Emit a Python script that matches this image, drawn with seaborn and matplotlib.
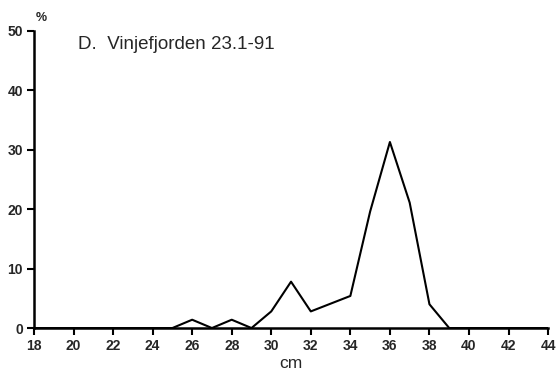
import matplotlib
matplotlib.use("Agg")
import matplotlib.pyplot as plt
import seaborn as sns
import pandas as pd

# Length distribution (cm) and percentage of catch
lengths = [18, 19, 20, 21, 22, 23, 24, 25, 26, 27, 28, 29, 30, 31, 32, 33,
           34, 35, 36, 37, 38, 39, 40, 41, 42, 43, 44]
percent = [0, 0, 0, 0, 0, 0, 0, 0, 1.4, 0, 1.4, 0, 2.8, 7.8, 2.8, 4.1,
           5.4, 19.6, 31.3, 21.1, 4.0, 0, 0, 0, 0, 0, 0]
x_ticks = list(range(18, 45, 2))
y_ticks = [0, 10, 20, 30, 40, 50]
title = "D.  Vinjefjorden 23.1-91"

df = pd.DataFrame({"cm": lengths, "pct": percent})

sns.set_style("ticks")
plt.rcParams["font.family"] = ["Liberation Sans", "DejaVu Sans"]

fig = plt.figure(figsize=(5.57, 3.81), dpi=100)
ax = fig.add_axes([0.061, 0.139, 0.923, 0.780])

sns.lineplot(data=df, x="cm", y="pct", ax=ax, color="black", linewidth=1.5)

ax.set_xlim(18, 44)
ax.set_ylim(0, 50)
ax.set_xticks(x_ticks)
ax.set_yticks(y_ticks)
ax.set_xticklabels([str(t) for t in x_ticks], fontsize=10, fontweight="bold")
ax.set_yticklabels([str(t) for t in y_ticks], fontsize=10, fontweight="bold")
ax.tick_params(axis="both", direction="out", length=5, width=1.5, color="black", pad=3)
for side in ("top", "right"):
    ax.spines[side].set_visible(False)
for side in ("left", "bottom"):
    ax.spines[side].set_linewidth(1.8)
    ax.spines[side].set_color("black")

ax.set_xlabel("cm", fontsize=12.5)
ax.xaxis.set_label_coords(0.5, -0.095)
ax.set_ylabel("")
fig.text(0.074, 0.952, "%", fontsize=9, fontweight="bold", ha="center", va="center")
ax.text(0.085, 0.953, title, transform=ax.transAxes, fontsize=13.5, ha="left", va="center")

fig.savefig("out.png", dpi=100)
